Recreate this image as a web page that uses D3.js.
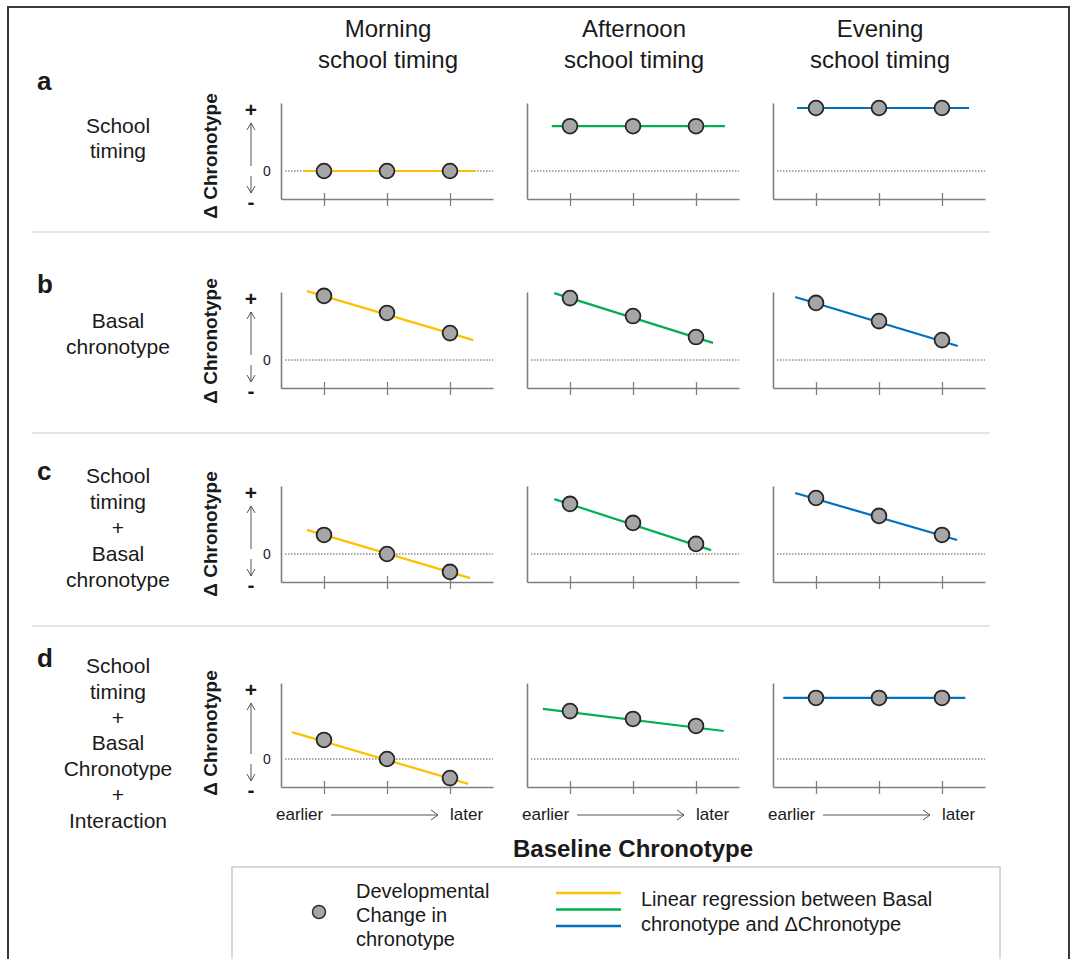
<!DOCTYPE html>
<html>
<head>
<meta charset="utf-8">
<script src="https://cdn.jsdelivr.net/npm/d3@7"></script>
<style>
  html, body { margin: 0; padding: 0; background: #ffffff; }
  svg { display: block; }
  text { font-family: "Liberation Sans", Arial, Helvetica, sans-serif; fill: #1a1a1a; }
</style>
</head>
<body>
<svg id="chart" width="1079" height="959"></svg>
<script>
// ---------------- DATA ----------------
const columnTitles = [["Morning", "school timing"], ["Afternoon", "school timing"], ["Evening", "school timing"]];
const rowLetters = ["a", "b", "c", "d"];
const rowModels = [
  ["School", "timing"],
  ["Basal", "chronotype"],
  ["School", "timing", "+", "Basal", "chronotype"],
  ["School", "timing", "+", "Basal", "Chronotype", "+", "Interaction"]
];
const baselineLevels = [0, 1, 2];          // baseline chronotype: earlier -> later
const xEndLabels = ["earlier", "later"];
const yAxisLabel = "Δ Chronotype";
const xAxisTitle = "Baseline Chronotype";
const lineColors = ["#FFC000", "#00B050", "#0070C0"];

// Developmental change in chronotype (arbitrary units, 0 = no change), rows a..d
const morningDots   = [[0, 0, 0], [2.29, 1.68, 0.96], [0.68, 0, -0.64], [0.68, 0, -0.68]];
const afternoonDots = [[1.6, 1.6, 1.6], [2.21, 1.57, 0.82], [1.79, 1.11, 0.36], [1.71, 1.43, 1.18]];
const eveningDots   = [[2.25, 2.25, 2.25], [2.04, 1.39, 0.71], [2.0, 1.36, 0.68], [2.18, 2.18, 2.18]];

// Regression line ends [xStart, yStart, xEnd, yEnd], rows a..d
const morningFit   = [[-0.33, 0, 2.41, 0], [-0.27, 2.46, 2.37, 0.71], [-0.27, 0.86, 2.32, -0.86], [-0.51, 0.96, 2.29, -0.89]];
const afternoonFit = [[-0.29, 1.6, 2.46, 1.6], [-0.25, 2.39, 2.27, 0.61], [-0.25, 1.96, 2.24, 0.14], [-0.43, 1.79, 2.44, 1.0]];
const eveningFit   = [[-0.3, 2.25, 2.43, 2.25], [-0.33, 2.25, 2.25, 0.5], [-0.33, 2.18, 2.24, 0.5], [-0.52, 2.18, 2.37, 2.18]];

const legendDotLabel = ["Developmental", "Change in", "chronotype"];
const legendLineLabel = ["Linear regression between Basal", "chronotype and ΔChronotype"];

// ---------------- LAYOUT ----------------
const dotsByCol = [morningDots, afternoonDots, eveningDots];
const fitByCol = [morningFit, afternoonFit, eveningFit];
const colAxisX = [281, 527, 773];
const rowAxisY = [199, 388, 582, 787];
const rowTop = [2.43, 2.43, 2.43, 2.71];
const unit = 28;
const axisW = 212;
const labelCenterY = [156, 341, 534, 733];
const letterBaseline = [90, 293, 480, 667];
const modelFirstBaseline = [133, 328, 483, 673];
const modelStep = [24.5, 25.5, 26, 25.8];

const svg = d3.select("#chart");

// outer frame
svg.append("rect").attr("x", 8).attr("y", 7).attr("width", 1061).attr("height", 1000)
  .attr("fill", "none").attr("stroke", "#3a3a3a").attr("stroke-width", 2);

// separators
[232, 433, 626].forEach(y => {
  svg.append("line").attr("x1", 32).attr("x2", 990).attr("y1", y).attr("y2", y)
    .attr("stroke", "#dcdcdc").attr("stroke-width", 1.5);
});

// column titles
columnTitles.forEach((t, c) => {
  const tx = svg.append("text").attr("x", colAxisX[c] + 107).attr("y", 37)
    .attr("text-anchor", "middle").style("font-size", "24px");
  tx.append("tspan").attr("x", colAxisX[c] + 107).attr("y", 37).text(t[0]);
  tx.append("tspan").attr("x", colAxisX[c] + 107).attr("y", 68).text(t[1]);
});

// x scale (shared in shape)
const x = d3.scaleLinear().domain([-43 / 63, (axisW - 43) / 63]).range([0, axisW]);

rowLetters.forEach((letter, r) => {
  // row letter
  svg.append("text").attr("x", 37).attr("y", letterBaseline[r]).text(letter)
    .style("font-size", "26px").style("font-weight", "bold");
  // model label
  rowModels[r].forEach((s, i) => {
    svg.append("text").attr("x", 118).attr("y", modelFirstBaseline[r] + i * modelStep[r])
      .attr("text-anchor", "middle").style("font-size", "21px").text(s);
  });

  const y = d3.scaleLinear().domain([-1, rowTop[r]])
    .range([rowAxisY[r], rowAxisY[r] - unit * (rowTop[r] + 1)]);

  // y label with +/-/0 and arrows
  svg.append("text").attr("transform", `translate(217,${labelCenterY[r]}) rotate(-90)`)
    .attr("text-anchor", "middle").style("font-size", "19px").style("font-weight", "bold").text(yAxisLabel);
  const ax = 251;
  svg.append("text").attr("x", ax).attr("y", y(rowTop[r]) + 14).attr("text-anchor", "middle")
    .style("font-size", "21px").style("font-weight", "bold").text("+");
  svg.append("text").attr("x", ax).attr("y", y(-1) + 10).attr("text-anchor", "middle")
    .style("font-size", "21px").style("font-weight", "bold").text("-");
  svg.append("text").attr("x", 267).attr("y", y(0) + 5).attr("text-anchor", "middle")
    .style("font-size", "14px").text("0");
  const upTop = y(rowTop[r]) + 20, upBot = y(0) - 5;
  const dnTop = y(0) + 5, dnBot = y(-1) - 6;
  const arrowG = svg.append("g").attr("stroke", "#555").attr("stroke-width", 1).attr("fill", "none");
  arrowG.append("line").attr("x1", ax).attr("x2", ax).attr("y1", upTop).attr("y2", upBot);
  arrowG.append("path").attr("d", `M${ax - 4},${upTop + 7} L${ax},${upTop} L${ax + 4},${upTop + 7}`);
  arrowG.append("line").attr("x1", ax).attr("x2", ax).attr("y1", dnTop).attr("y2", dnBot);
  arrowG.append("path").attr("d", `M${ax - 4},${dnBot - 7} L${ax},${dnBot} L${ax + 4},${dnBot - 7}`);

  columnTitles.forEach((_, c) => {
    const g = svg.append("g").attr("transform", `translate(${colAxisX[c]},0)`);

    // zero line (dotted)
    g.append("line").attr("x1", 4).attr("x2", axisW).attr("y1", y(0)).attr("y2", y(0))
      .attr("stroke", "#555").attr("stroke-width", 1).attr("stroke-dasharray", "1.5,1.5");

    // x axis
    const xa = g.append("g").attr("transform", `translate(0,${rowAxisY[r]})`)
      .call(d3.axisBottom(x).tickValues(baselineLevels).tickFormat("").tickSizeOuter(0).tickSizeInner(7));
    xa.select(".domain").attr("stroke", "#7f7f7f").attr("stroke-width", 1.6);
    xa.selectAll(".tick line").attr("stroke", "#7f7f7f").attr("stroke-width", 1.3).attr("y1", -6);

    // y axis
    const ya = g.append("g").call(d3.axisLeft(y).tickValues([]).tickSizeOuter(0));
    ya.select(".domain").attr("stroke", "#7f7f7f").attr("stroke-width", 1.6);

    // regression line
    const f = fitByCol[c][r];
    g.append("line").attr("x1", x(f[0])).attr("y1", y(f[1])).attr("x2", x(f[2])).attr("y2", y(f[3]))
      .attr("stroke", lineColors[c]).attr("stroke-width", 2.2);

    // dots
    g.selectAll("circle.dot").data(dotsByCol[c][r]).enter().append("circle")
      .attr("class", "dot")
      .attr("cx", (d, i) => x(baselineLevels[i])).attr("cy", d => y(d)).attr("r", 7.4)
      .attr("fill", "#a6a6a6").attr("stroke", "#262626").attr("stroke-width", 1.8);

    // earlier -> later labels on last row
    if (r === rowLetters.length - 1) {
      const by = rowAxisY[r] + 33;
      g.append("text").attr("x", -5).attr("y", by).style("font-size", "17px").text(xEndLabels[0]);
      g.append("line").attr("x1", 50).attr("x2", 157).attr("y1", by - 5).attr("y2", by - 5)
        .attr("stroke", "#555").attr("stroke-width", 1);
      g.append("path").attr("d", `M${150},${by - 10} L${157},${by - 5} L${150},${by}`)
        .attr("fill", "none").attr("stroke", "#555").attr("stroke-width", 1);
      g.append("text").attr("x", 169).attr("y", by).style("font-size", "17px").text(xEndLabels[1]);
    }
  });
});

// x axis title
svg.append("text").attr("x", 633).attr("y", 857).attr("text-anchor", "middle")
  .style("font-size", "24px").style("font-weight", "bold").text(xAxisTitle);

// legend
svg.append("rect").attr("x", 232).attr("y", 867).attr("width", 768).attr("height", 120)
  .attr("fill", "none").attr("stroke", "#cccccc").attr("stroke-width", 1.5);
svg.append("circle").attr("cx", 319).attr("cy", 912).attr("r", 6.5)
  .attr("fill", "#a6a6a6").attr("stroke", "#333").attr("stroke-width", 1.5);
legendDotLabel.forEach((s, i) => {
  svg.append("text").attr("x", 356).attr("y", 898 + i * 24).style("font-size", "20px").text(s);
});
lineColors.forEach((col, i) => {
  svg.append("line").attr("x1", 556).attr("x2", 621).attr("y1", 893 + i * 16.5).attr("y2", 893 + i * 16.5)
    .attr("stroke", col).attr("stroke-width", 2.5);
});
legendLineLabel.forEach((s, i) => {
  svg.append("text").attr("x", 641).attr("y", 906 + i * 25).style("font-size", "20px").text(s);
});
</script>
</body>
</html>
